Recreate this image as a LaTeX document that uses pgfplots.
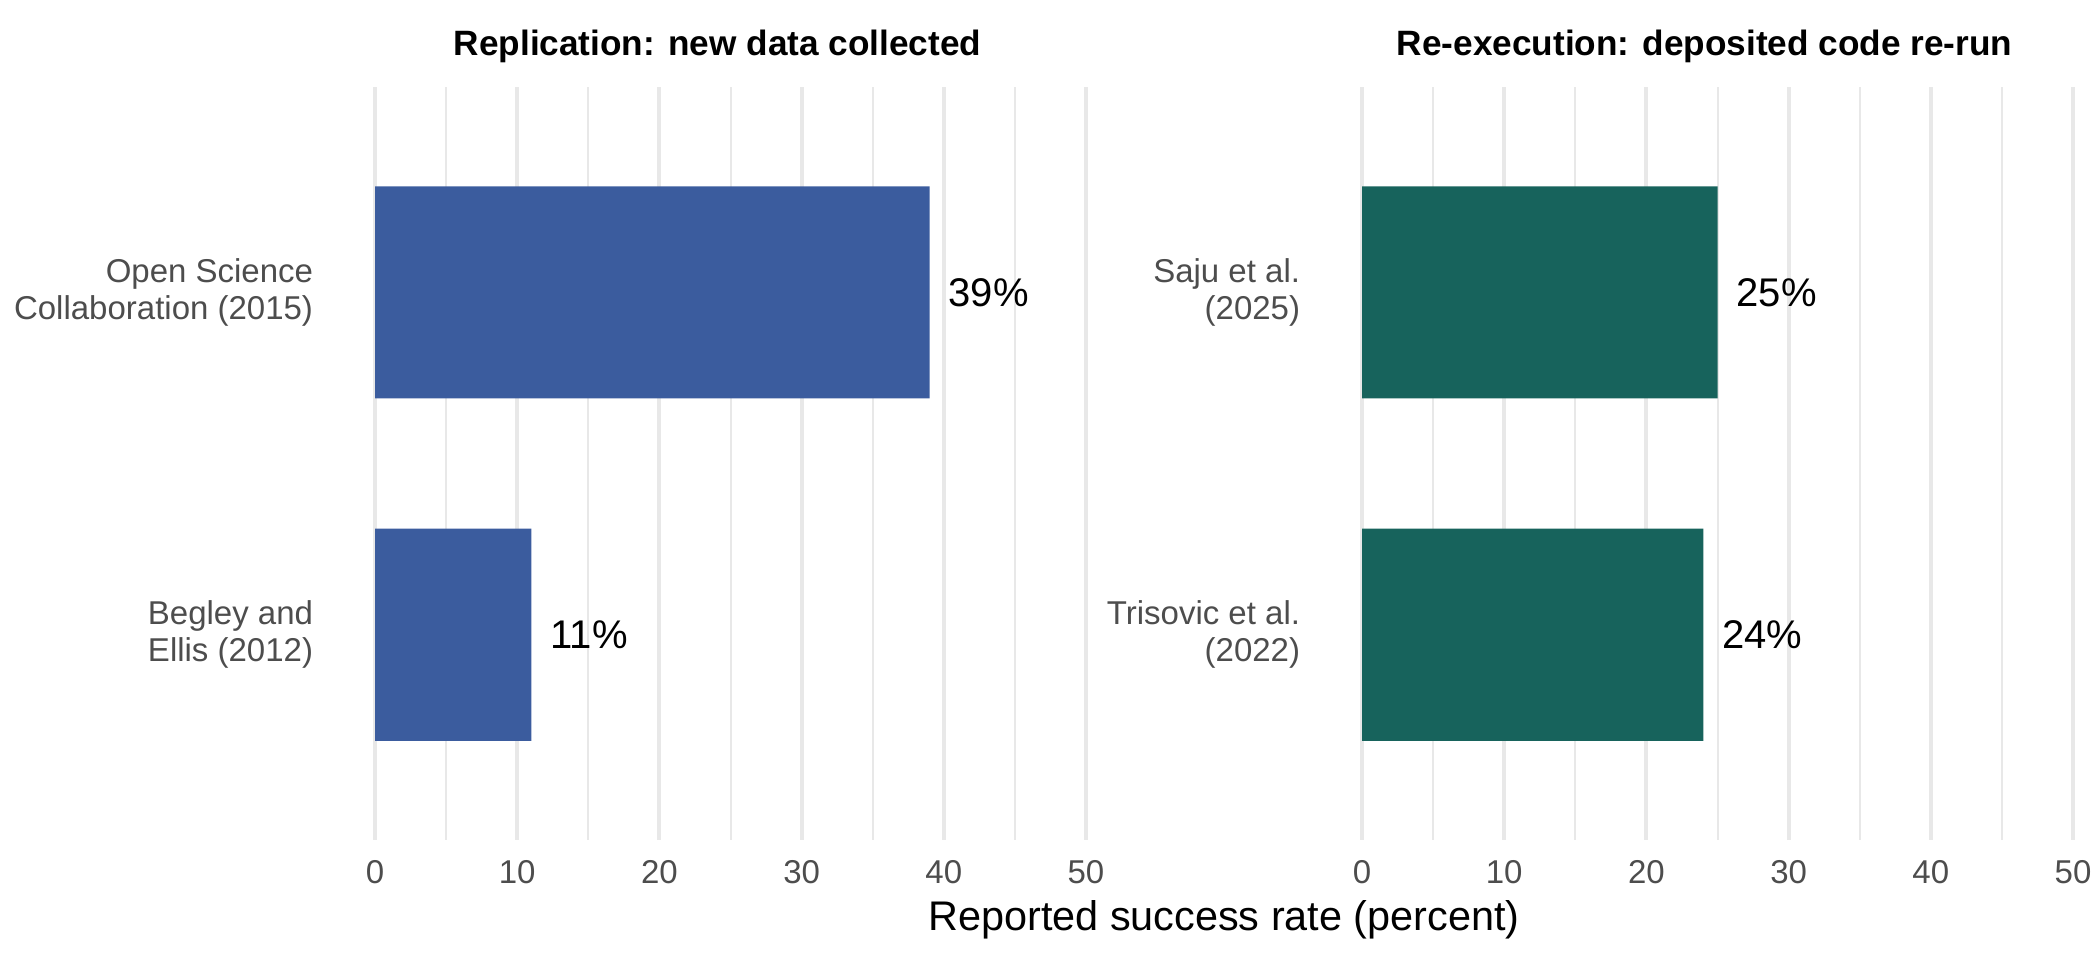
\documentclass[border=0pt]{standalone}
\usepackage{fontspec}
\setmainfont{Liberation Sans}
\usepackage{pgfplots}
\pgfplotsset{compat=1.18}

\definecolor{repblue}{RGB}{59,92,158}
\definecolor{reteal}{RGB}{23,99,92}
\definecolor{gridgray}{RGB}{232,232,232}
\definecolor{ticktext}{RGB}{77,77,77}

\pgfplotsset{
  panel/.style={
    xbar,
    scale only axis,
    width=355.5pt, height=376.5pt,
    xmin=0, xmax=50, ymin=0.4, ymax=2.6,
    xtick={0,10,...,50},
    minor xtick={5,15,...,45},
    ytick={1,2},
    axis line style={draw=none},
    tick style={draw=none},
    xmajorgrids, xminorgrids,
    major grid style={draw=gridgray, line width=2pt},
    minor grid style={draw=gridgray, line width=1pt},
    tick label style={font=\fontsize{16.5}{18.3}\selectfont, text=ticktext},
    yticklabel style={align=right, anchor=east, inner sep=0pt, xshift=-26.5pt},
    xticklabel style={anchor=north, inner sep=0pt, yshift=-10pt},
    /pgf/number format/assume math mode=true,
    bar width=0.62,
    point meta=x,
    nodes near coords={\pgfmathprintnumber{\pgfplotspointmeta}\%},
    every node near coord/.append style={anchor=west, xshift=6pt,
      font=\fontsize{20}{24}\selectfont, text=black},
    title style={font=\bfseries\fontsize{17.6}{21}\selectfont,
      at={(0.5,1)}, anchor=base, yshift=10pt, xshift=-6.5pt},
  }
}

\begin{document}
\begin{tikzpicture}
\path[use as bounding box] (0,0) rectangle (1050pt,-480pt);

% left panel: replication
\begin{axis}[panel,
    at={(187.5pt,-420pt)}, anchor=south west,
    title={Replication: new data collected},
    yticklabels={{Begley and\\Ellis (2012)},{Open Science\\Collaboration (2015)}},
  ]
  \addplot[fill=repblue, draw=none] coordinates {
    (11,1)
    (39,2)
  };
\end{axis}

% right panel: re-execution
\begin{axis}[panel,
    at={(681pt,-420pt)}, anchor=south west,
    title={Re-execution: deposited code re-run},
    yticklabels={{Trisovic et al.\\(2022)},{Saju et al.\\(2025)}},
  ]
  \addplot[fill=reteal, draw=none] coordinates {
    (24,1)
    (25,2)
  };
\end{axis}

\node[font=\fontsize{20.7}{24}\selectfont] at (612pt,-460pt) {Reported success rate (percent)};
\end{tikzpicture}
\end{document}
